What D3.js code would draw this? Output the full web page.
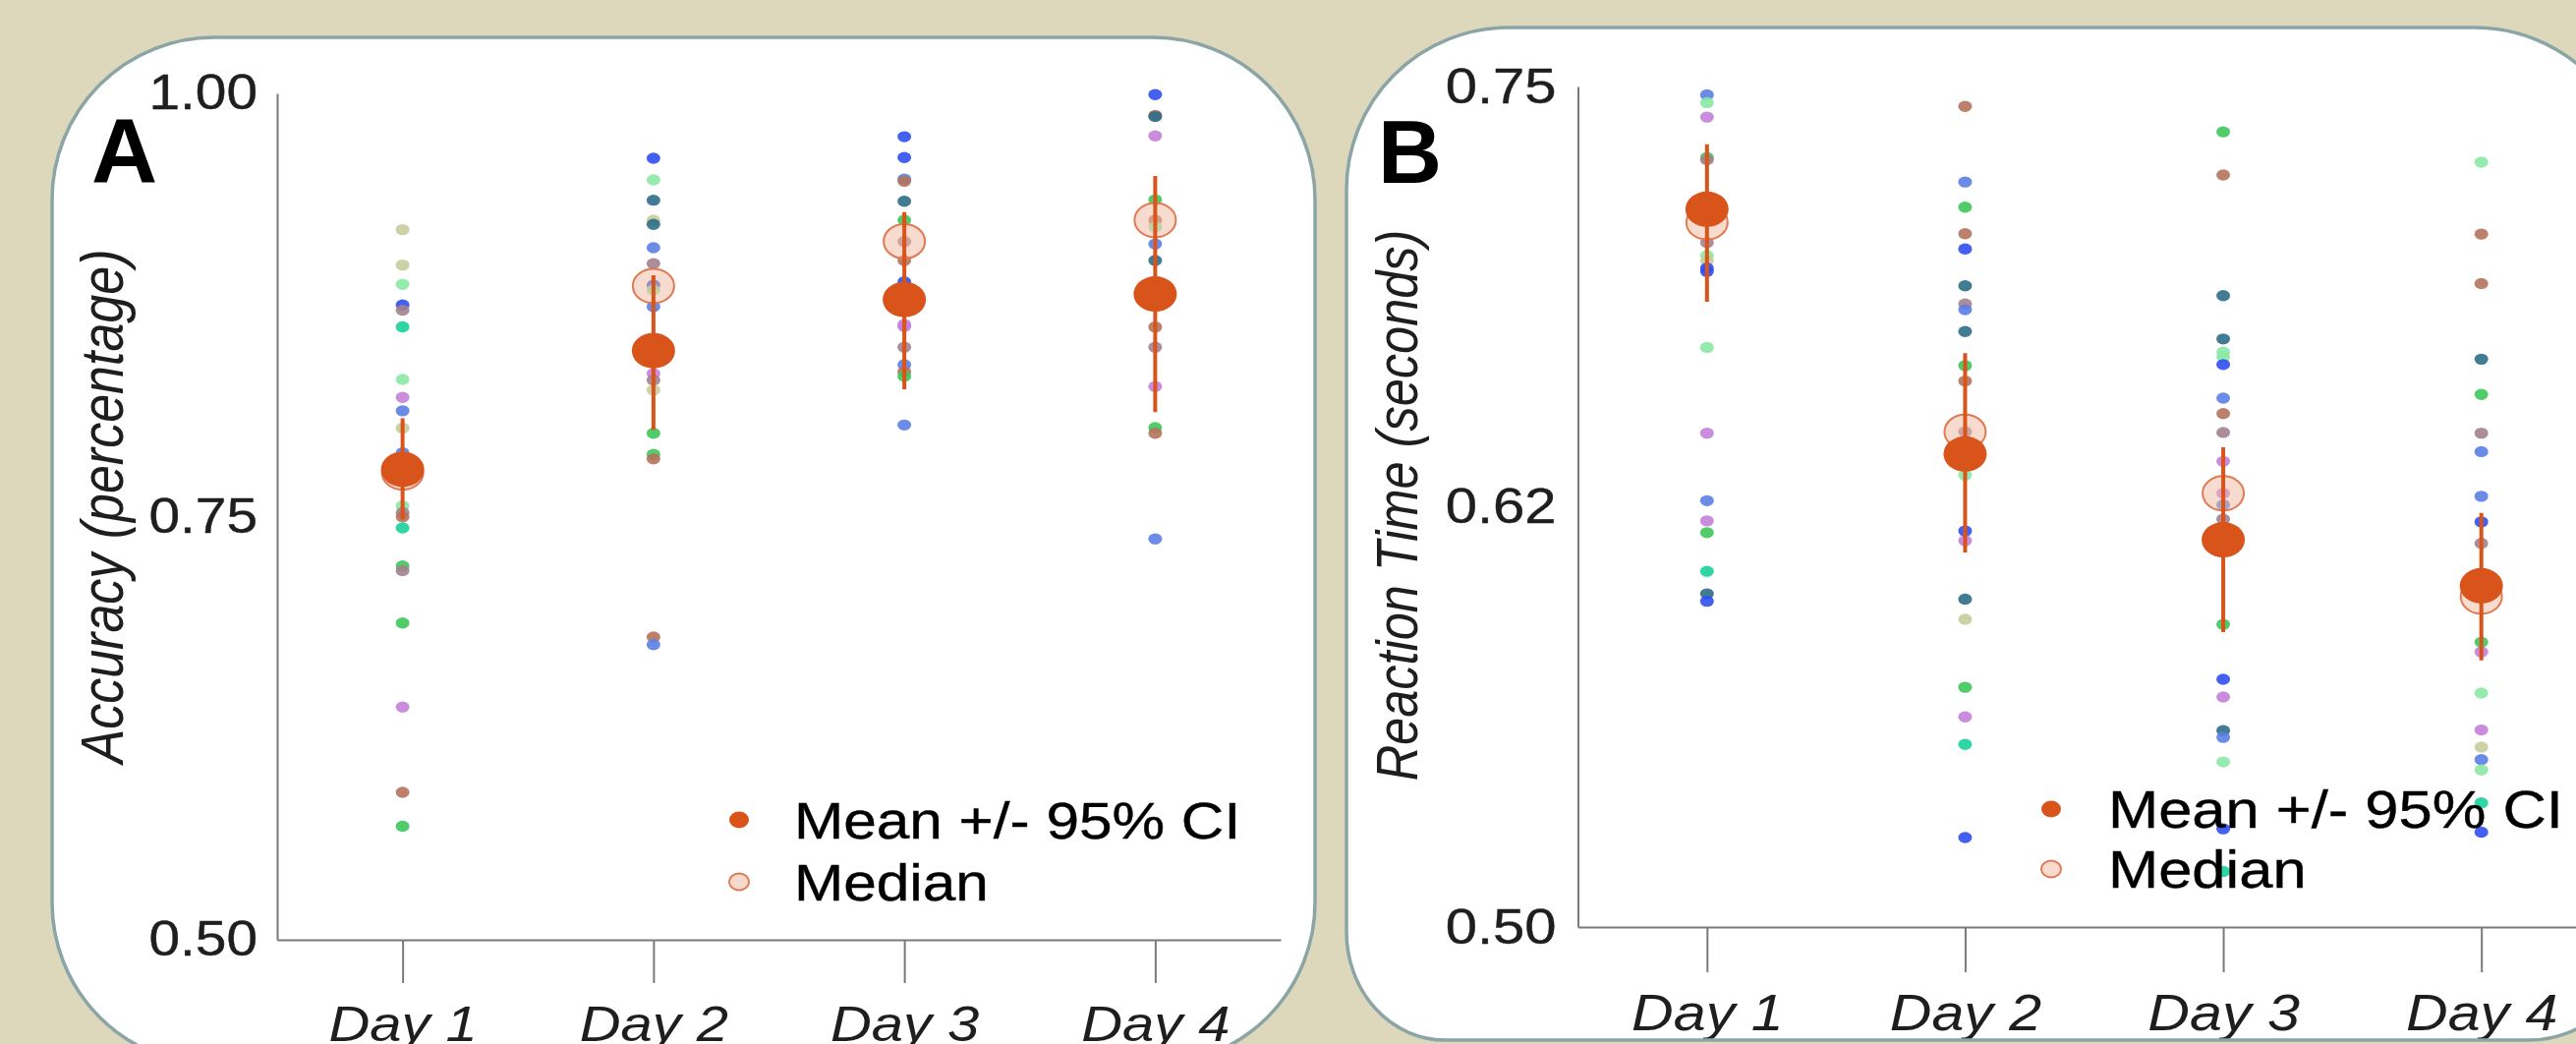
<!DOCTYPE html>
<html>
<head>
<meta charset="utf-8">
<script src="https://cdn.jsdelivr.net/npm/d3@7/dist/d3.min.js"></script>
<style>
body { margin: 0; background: #ddd8bc; }
</style>
</head>
<body>
<div id="app"></div>
<script>
// ---- data ----
const days = ["Day 1", "Day 2", "Day 3", "Day 4"];

// accuracy, one dot per participant and day
const accDots = [
  [0.9195, 0.8986, 0.8872, 0.8750, 0.8719, 0.8621, 0.8310, 0.8204, 0.8125, 0.8023, 0.7877,
   0.7563, 0.7523, 0.7499, 0.7433, 0.7208, 0.7181, 0.6871, 0.6375, 0.5871, 0.5671],
  [0.9617, 0.9489, 0.9369, 0.9251, 0.9226, 0.9088, 0.8994, 0.8868, 0.8839, 0.8740, 0.8520,
   0.8345, 0.8306, 0.8248, 0.7992, 0.7867, 0.7841, 0.6789, 0.6744],
  [0.9744, 0.9621, 0.9493, 0.9481, 0.9363, 0.9251, 0.9125, 0.9013, 0.8887, 0.8635, 0.8622,
   0.8500, 0.8397, 0.8355, 0.8329, 0.8041],
  [0.9993, 0.9870, 0.9863, 0.9749, 0.9371, 0.9251, 0.9210, 0.9110, 0.9013, 0.8620, 0.8500,
   0.8268, 0.8026, 0.7992, 0.7368]
];
const accIds = [
  ["khaki", "khaki", "lightgreen", "blue", "mauve", "teal", "lightgreen", "purple", "lightblue", "khaki", "lightblue",
   "lightgreen", "mauve", "brown", "teal", "green", "mauve", "green", "purple", "brown", "green"],
  ["blue", "lightgreen", "darkteal", "khaki", "darkteal", "lightblue", "mauve", "blue", "lightgreen", "lightblue", "purple",
   "purple", "mauve", "khaki", "green", "green", "brown", "brown", "lightblue"],
  ["blue", "blue", "lightblue", "brown", "darkteal", "green", "mauve", "brown", "blue", "purple", "purple",
   "mauve", "lightblue", "brown", "green", "lightblue"],
  ["blue", "brown", "darkteal", "purple", "green", "brown", "lightgreen", "lightblue", "darkteal", "brown", "mauve",
   "purple", "green", "brown", "lightblue"]
];
const accMean = [0.7779, 0.8480, 0.8782, 0.8815];
const accLow = [0.7484, 0.8012, 0.8252, 0.8117];
const accHigh = [0.8081, 0.8926, 0.9299, 0.9512];
const accMedian = [0.7760, 0.8862, 0.9126, 0.9251];
const accTicks = [0.5, 0.75, 1.0];
const accTickLabels = ["0.50", "0.75", "1.00"];

// reaction time (seconds)
const rtDots = [
  [0.7475, 0.7452, 0.7409, 0.7289, 0.7282, 0.7150, 0.7036, 0.6997, 0.6982, 0.6960, 0.6950,
   0.6724, 0.6469, 0.6268, 0.6208, 0.6173, 0.6058, 0.5991, 0.5969],
  [0.7441, 0.7216, 0.7141, 0.7062, 0.7017, 0.6907, 0.6853, 0.6836, 0.6771, 0.6670, 0.6624,
   0.6473, 0.6344, 0.6178, 0.6149, 0.5975, 0.5915, 0.5713, 0.5625, 0.5543, 0.5266],
  [0.7365, 0.7237, 0.6878, 0.6749, 0.6710, 0.6696, 0.6673, 0.6573, 0.6527, 0.6471, 0.6385,
   0.6290, 0.6256, 0.6213, 0.5900, 0.5737, 0.5684, 0.5584, 0.5564, 0.5491, 0.5292, 0.5165],
  [0.7275, 0.7061, 0.6914, 0.6689, 0.6584, 0.6469, 0.6414, 0.6281, 0.6205, 0.6141, 0.5847,
   0.5818, 0.5696, 0.5586, 0.5535, 0.5498, 0.5467, 0.5369, 0.5282]
];
const rtIds = [
  ["lightblue", "lightgreen", "purple", "green", "mauve", "brown", "mauve", "lightgreen", "khaki", "blue", "blue",
   "lightgreen", "purple", "lightblue", "purple", "green", "teal", "darkteal", "blue"],
  ["brown", "lightblue", "green", "brown", "blue", "darkteal", "mauve", "lightblue", "darkteal", "green", "brown",
   "mauve", "lightgreen", "blue", "purple", "darkteal", "khaki", "green", "purple", "teal", "blue"],
  ["green", "brown", "darkteal", "darkteal", "lightgreen", "lightgreen", "blue", "lightblue", "brown", "mauve", "purple",
   "purple", "lightblue", "mauve", "green", "blue", "purple", "darkteal", "lightblue", "lightgreen", "blue", "teal"],
  ["lightgreen", "brown", "brown", "darkteal", "green", "mauve", "lightblue", "lightblue", "blue", "mauve", "green",
   "purple", "lightgreen", "purple", "khaki", "lightblue", "lightgreen", "teal", "blue"]
];
const rtMean = [0.7135, 0.6407, 0.6152, 0.6015];
const rtLow = [0.6860, 0.6114, 0.5877, 0.5793];
const rtHigh = [0.7328, 0.6707, 0.6427, 0.6232];
const rtMedian = [0.7096, 0.6473, 0.6290, 0.5983];
const rtTicks = [0.5, 0.625, 0.75];
const rtTickLabels = ["0.50", "0.62", "0.75"];

const legendLabels = ["Mean +/- 95% CI", "Median"];

const palette = {
  blue: "#2f4ff0", lightblue: "#5b80e3", darkteal: "#2c6e88", lightgreen: "#8be8a4",
  green: "#3fc65a", teal: "#19d09b", khaki: "#c8cc9c", brown: "#b4735d",
  mauve: "#a3818f", purple: "#c47fd8"
};

// ---- drawing ----
const W = 2621, H = 1062;
const SX = 1.16;          // the picture is a little wider than tall
const font = "'Liberation Sans', Arial, Helvetica, sans-serif";
const orange = "#d9541a";

const svg = d3.select("#app").append("svg")
  .attr("width", W).attr("height", H).style("display", "block");
svg.append("rect").attr("width", W).attr("height", H).attr("fill", "#ddd8bc");

function roundedPath(x0, y0, x1, y1, c) {
  const [tl, tr, br, bl] = c;
  return `M${x0 + tl[0]},${y0} L${x1 - tr[0]},${y0} A${tr[0]},${tr[1]} 0 0 1 ${x1},${y0 + tr[1]}` +
    ` L${x1},${y1 - br[1]} A${br[0]},${br[1]} 0 0 1 ${x1 - br[0]},${y1}` +
    ` L${x0 + bl[0]},${y1} A${bl[0]},${bl[1]} 0 0 1 ${x0},${y1 - bl[1]}` +
    ` L${x0},${y0 + tl[1]} A${tl[0]},${tl[1]} 0 0 1 ${x0 + tl[0]},${y0} Z`;
}

function drawPanel(p) {
  const shape = roundedPath(...p.box, p.corners);
  const clipId = "clip-" + p.letter;
  svg.append("clipPath").attr("id", clipId).append("path").attr("d", shape);
  svg.append("path").attr("d", shape).attr("fill", "#fff");
  const g = svg.append("g").attr("clip-path", `url(#${clipId})`);

  const x = d3.scalePoint().domain(days).range(p.xRange).padding(0.5);
  const y = d3.scaleLinear().domain(d3.extent(p.ticks)).range(p.yRange);

  // y axis
  const gy = g.append("g").attr("transform", `translate(${p.xRange[0]},0)`)
    .call(d3.axisLeft(y).tickValues(p.ticks).tickSize(0).tickSizeOuter(0)
      .tickPadding(p.yPad / SX)
      .tickFormat((d, i) => p.tickLabels[i]));
  gy.select(".domain").attr("stroke", "#7a7a7a").attr("stroke-width", 2);
  gy.selectAll("text").attr("font-family", font).attr("font-size", p.tickSize)
    .attr("fill", "#1e1e1e").attr("stroke", "#1e1e1e").attr("stroke-width", 0.4)
    .attr("transform", `scale(${SX},1)`);

  // x axis
  const gx = g.append("g").attr("transform", `translate(0,${p.yRange[0]})`)
    .call(d3.axisBottom(x).tickSize(p.tickLen).tickSizeOuter(0).tickPadding(p.xPad));
  gx.select(".domain").attr("stroke", "#7a7a7a").attr("stroke-width", 2);
  gx.selectAll(".tick line").attr("stroke", "#7a7a7a").attr("stroke-width", 2);
  gx.selectAll("text").attr("font-family", font).attr("font-size", p.daySize)
    .attr("font-style", "italic").attr("fill", "#1e1e1e").attr("transform", `scale(${SX},1)`);

  // y axis title
  g.append("text").attr("transform", `translate(${p.titlePos[0]},${p.titlePos[1]}) scale(${SX},1) rotate(-90)`)
    .attr("text-anchor", "middle").attr("font-family", font).attr("font-size", p.titleSize)
    .attr("font-style", "italic").attr("fill", "#1e1e1e").text(p.title);

  // participant dots
  days.forEach((day, i) => {
    g.append("g").selectAll("ellipse").data(p.dots[i]).join("ellipse")
      .attr("cx", x(day)).attr("cy", d => y(d))
      .attr("rx", 7).attr("ry", 5.7)
      .attr("fill", (d, j) => palette[p.ids[i][j]]).attr("opacity", 0.9);
  });

  // medians
  g.append("g").selectAll("ellipse").data(p.median).join("ellipse")
    .attr("cx", (d, i) => x(days[i])).attr("cy", d => y(d))
    .attr("rx", 21).attr("ry", 17.5)
    .attr("fill", "#f0b8a0").attr("fill-opacity", 0.5)
    .attr("stroke", "#e07a52").attr("stroke-width", 2);

  // 95% CI
  g.append("g").selectAll("line").data(p.mean).join("line")
    .attr("x1", (d, i) => x(days[i])).attr("x2", (d, i) => x(days[i]))
    .attr("y1", (d, i) => y(p.low[i])).attr("y2", (d, i) => y(p.high[i]))
    .attr("stroke", orange).attr("stroke-width", 4);

  // means
  g.append("g").selectAll("ellipse").data(p.mean).join("ellipse")
    .attr("cx", (d, i) => x(days[i])).attr("cy", d => y(d))
    .attr("rx", 22).attr("ry", 18).attr("fill", orange);

  // legend
  const lg = g.append("g");
  legendLabels.forEach((lab, i) => {
    const cy = p.legend[1] + i * p.legendGap;
    const mark = lg.append("ellipse").attr("cx", p.legend[0]).attr("cy", cy).attr("rx", 10).attr("ry", 8.5);
    if (i === 0) mark.attr("fill", orange);
    else mark.attr("fill", "#f7dacd").attr("stroke", "#e07a52").attr("stroke-width", 1.8);
    lg.append("text")
      .attr("transform", `translate(${p.legendText},${cy + p.legendSize * 0.36}) scale(${SX},1)`)
      .attr("font-family", font).attr("font-size", p.legendSize).attr("fill", "#000")
      .attr("stroke", "#000").attr("stroke-width", 0.4).text(lab);
  });

  // panel letter
  g.append("text").attr("x", p.letterPos[0]).attr("y", p.letterPos[1])
    .attr("font-family", font).attr("font-weight", "bold").attr("font-size", p.letterSize)
    .attr("fill", "#000").text(p.letter);

  svg.append("path").attr("d", shape).attr("fill", "none")
    .attr("stroke", "#8ba5a7").attr("stroke-width", 3.5);
}

drawPanel({
  letter: "A", box: [53, 38, 1338, 1083],
  corners: [[165, 165], [165, 165], [165, 165], [165, 165]],
  xRange: [282, 1303], yRange: [956, 95],
  ticks: accTicks, tickLabels: accTickLabels, tickSize: 49, yPad: 20,
  tickLen: 44, xPad: 24, daySize: 50,
  title: "Accuracy (percentage)", titlePos: [125, 515], titleSize: 52,
  dots: accDots, ids: accIds, mean: accMean, low: accLow, high: accHigh, median: accMedian,
  legend: [752, 834], legendText: 808, legendGap: 63, legendSize: 52,
  letterPos: [93, 185], letterSize: 93
});

drawPanel({
  letter: "B", box: [1370, 28, 2683, 1058],
  corners: [[165, 165], [165, 165], [110, 110], [100, 110]],
  xRange: [1605.5, 2656], yRange: [943, 88],
  ticks: rtTicks, tickLabels: rtTickLabels, tickSize: 50, yPad: 22,
  tickLen: 46, xPad: 23, daySize: 51,
  title: "Reaction Time (seconds)", titlePos: [1442, 514], titleSize: 50.5,
  dots: rtDots, ids: rtIds, mean: rtMean, low: rtLow, high: rtHigh, median: rtMedian,
  legend: [2087, 823], legendText: 2145, legendGap: 61, legendSize: 53,
  letterPos: [1402, 186], letterSize: 90
});
</script>
</body>
</html>
